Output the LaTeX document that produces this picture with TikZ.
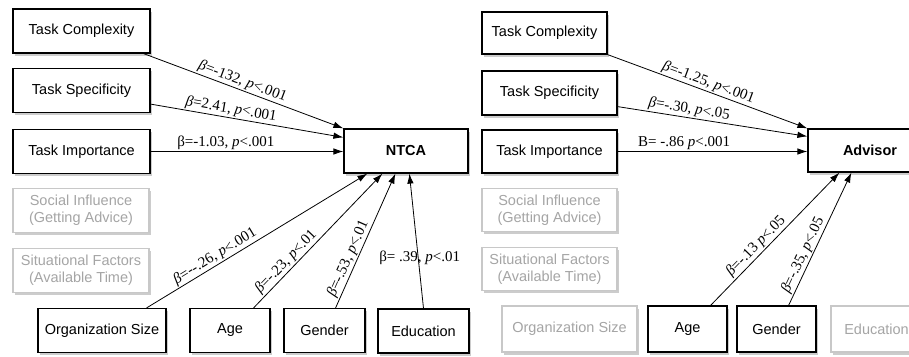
\documentclass[tikz,border=0pt]{standalone}
\usepackage{fontspec}
\setmainfont{Liberation Serif}
\newfontfamily\boxsans{Liberation Sans}
\usepackage{tikz}
\usetikzlibrary{
    arrows.meta,
    shadows
}
\definecolor{offtext}{RGB}{165,165,165}
\definecolor{offline}{RGB}{200,200,200}
\newcommand{\bta}{\textit{β}}
\newcommand{\pv}{\textit{p}}

\begin{document}
\begin{tikzpicture}[x=1pt, y=-1pt,
    varbox/.style={draw, line width=1.2pt, fill=white, inner sep=0pt, minimum height=44pt, align=center,
        font=\boxsans\fontsize{14.5}{17}\selectfont,
        drop shadow={shadow xshift=1.5pt, shadow yshift=-2.5pt, opacity=0.4}},
    offbox/.style={varbox, draw=offline, text=offtext},
    outbox/.style={varbox, font=\boxsans\bfseries\fontsize{14.5}{17}\selectfont},
    arr/.style={-{Latex[length=10pt,width=6.5pt]}, line width=0.8pt},
    coef/.style={font=\fontsize{15}{17}\selectfont, inner sep=1.2pt}]
    \useasboundingbox (0,0) rectangle (909,356);

    % Left model: predictors of NTCA
    \node[varbox, minimum width=137pt] (tcomp) at (81.5,31) {Task Complexity};
    \node[varbox, minimum width=137pt] (tspec) at (81.5,90.5) {Task Specificity};
    \node[varbox, minimum width=137pt] (timp) at (81.5,151.5) {Task Importance};
    \node[offbox, minimum width=136pt] (social) at (81,210.5) {Social Influence\\(Getting Advice)};
    \node[offbox, minimum width=136pt] (situ) at (81,270.5) {Situational Factors\\(Available Time)};
    \node[varbox, minimum width=128pt] (orgsize) at (102,330.5) {Organization Size};
    \node[varbox, minimum width=80pt] (age) at (230,330.5) {Age};
    \node[varbox, minimum width=81pt] (gender) at (324.5,330.5) {Gender};
    \node[varbox, minimum width=91pt] (edu) at (423.5,331) {Education};
    \node[outbox, minimum width=124pt] (ntca) at (406,151) {NTCA};

    % Paths into NTCA
    \draw[arr] ([xshift=-7pt]tcomp.south east) -- (ntca.north west)
        node[coef, sloped, above, pos=0.48] {\bta=-132, \pv<.001};
    \draw[arr] ([yshift=9pt]tspec.south east) -- ([yshift=-9pt]ntca.north west)
        node[coef, sloped, above, pos=0.41] {\bta=2.41, \pv<.001};
    \draw[arr] (timp.east) -- (timp.east -| ntca.west)
        node[coef, above, pos=0.39] {β=-1.03, \pv<.001};
    \draw[arr] ([xshift=-20pt]orgsize.north east) -- ([xshift=24pt]ntca.south west)
        node[coef, sloped, above, pos=0.33] {\bta=-{}-.26, \pv<.001};
    \draw[arr] ([xshift=-17pt]age.north east) -- ([xshift=39pt]ntca.south west)
        node[coef, sloped, above, pos=0.3] {\bta=-.23, \pv<.01};
    \draw[arr] ([xshift=-30pt]gender.north east) -- ([xshift=52pt]ntca.south west)
        node[coef, sloped, above, pos=0.34] {\bta=-.53, \pv<.01};
    \draw[arr] (edu.north) -- ([xshift=66pt]ntca.south west)
        node[coef, xshift=1.5pt, pos=0.376] {β= .39, \pv<.01};

    % Right model: predictors of Advisor
    \node[varbox, minimum width=125pt, minimum height=42pt] (atcomp) at (544.5,33) {Task Complexity};
    \node[varbox, minimum width=135pt] (atspec) at (549.5,93) {Task Specificity};
    \node[varbox, minimum width=135pt, minimum height=43pt] (atimp) at (549.5,151.5) {Task Importance};
    \node[offbox, minimum width=135pt, minimum height=43pt] (asocial) at (549.5,210) {Social Influence\\(Getting Advice)};
    \node[offbox, minimum width=135pt, minimum height=43pt] (asitu) at (549.5,269) {Situational Factors\\(Available Time)};
    \node[offbox, minimum width=135pt, minimum height=46pt] (aorgsize) at (569.5,329) {Organization Size};
    \node[varbox, minimum width=79pt, minimum height=46pt] (aage) at (687.5,329) {Age};
    \node[varbox, minimum width=79pt, minimum height=46pt] (agender) at (776.5,329) {Gender};
    \node[offbox, minimum width=91pt, minimum height=46pt] (aedu) at (876.5,329) {Education};
    \node[outbox, minimum width=124pt, minimum height=43pt] (advisor) at (870,150.5) {Advisor};

    % Paths into Advisor
    \draw[arr] (atcomp.south east) -- (advisor.north west)
        node[coef, sloped, above, pos=0.49] {\bta=-1.25, \pv<.001};
    \draw[arr] ([yshift=9pt]atspec.south east) -- ([yshift=-8pt]advisor.north west)
        node[coef, sloped, above, pos=0.37] {\bta=-.30, \pv<.05};
    \draw[arr] (atimp.east) -- (atimp.east -| advisor.west)
        node[coef, above, pos=0.35] {B= -.86 \pv<.001};
    \draw[arr] ([xshift=-17pt]aage.north east) -- ([xshift=32pt]advisor.south west)
        node[coef, sloped, above, pos=0.4] {\bta=-.13 \pv<.05};
    \draw[arr] ([xshift=-28pt]agender.north east) -- ([xshift=44pt]advisor.south west)
        node[coef, sloped, above, pos=0.35] {\bta=-.35, \pv<.05};
\end{tikzpicture}
\end{document}
